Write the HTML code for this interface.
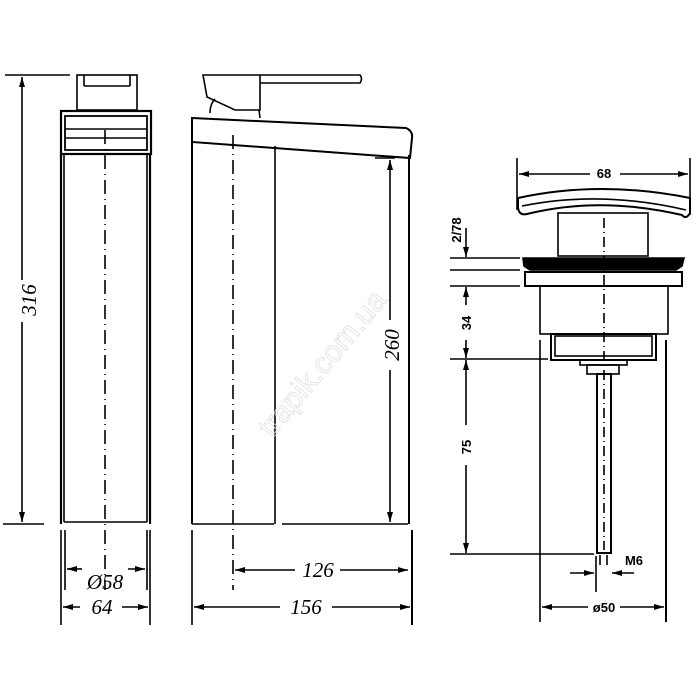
<!DOCTYPE html>
<html><head><meta charset="utf-8"><style>html,body{margin:0;padding:0;background:#fff}svg{display:block}</style></head>
<body>
<svg width="700" height="700" viewBox="0 0 700 700" xmlns="http://www.w3.org/2000/svg">
<defs>
<marker id="a" viewBox="0 0 10 6" refX="10" refY="3" markerWidth="10" markerHeight="6" orient="auto-start-reverse" markerUnits="userSpaceOnUse"><path d="M0,0 L10,3 L0,6 Z" fill="#000"/></marker>
</defs>
<g fill="none" stroke="#000" stroke-width="1.6">
<!-- LEFT VIEW -->
<line x1="5" y1="75" x2="70" y2="75"/>
<line x1="3" y1="524" x2="44" y2="524"/>
<line x1="22" y1="77" x2="22" y2="280" marker-start="url(#a)"/>
<line x1="22" y1="322" x2="22" y2="522" marker-end="url(#a)"/>
<rect x="77" y="75" width="60" height="35"/>
<line x1="84" y1="75" x2="84" y2="86"/><line x1="130" y1="75" x2="130" y2="86"/><line x1="84" y1="86" x2="130" y2="86"/>
<rect x="61" y="111" width="90" height="43" stroke-width="2.2"/>
<rect x="65" y="116" width="82" height="34" stroke-width="1.8"/>
<line x1="65" y1="129" x2="147" y2="129"/><line x1="65" y1="138" x2="147" y2="138"/>
<line x1="61" y1="154" x2="61" y2="524" stroke-width="2.2"/>
<line x1="64" y1="154" x2="64" y2="522"/>
<line x1="147" y1="154" x2="147" y2="522"/>
<line x1="150" y1="154" x2="150" y2="524" stroke-width="2.2"/>
<line x1="64" y1="522" x2="147" y2="522"/>
<line x1="105" y1="130" x2="105" y2="590" stroke-dasharray="14,5,1,5"/>
<line x1="61" y1="530" x2="61" y2="625"/><line x1="150" y1="530" x2="150" y2="625"/>
<line x1="65" y1="530" x2="65" y2="590"/><line x1="147" y1="530" x2="147" y2="590"/>
<line x1="67" y1="569" x2="82" y2="569" marker-start="url(#a)"/><line x1="128" y1="569" x2="145" y2="569" marker-end="url(#a)"/>
<line x1="63" y1="607" x2="80" y2="607" marker-start="url(#a)"/><line x1="122" y1="607" x2="148" y2="607" marker-end="url(#a)"/>
<!-- SIDE VIEW -->
<path d="M203,75 L260,75 L260,110 L235,110 L207,97 Z"/>
<path d="M260,75 L360,75 Q363,79 360,83 L260,83"/>
<path d="M215,99 Q210,104 210,113 M259,110 L260,118"/>
<path d="M192,118 L406,128 Q413,131 412,138 L410,158 L192,142 Z" stroke-width="2"/>
<line x1="192" y1="142" x2="192" y2="524" stroke-width="2"/>
<line x1="275" y1="146" x2="275" y2="524"/>
<line x1="192" y1="524" x2="274" y2="524"/>
<line x1="282" y1="524" x2="408" y2="524"/>
<line x1="409" y1="155" x2="409" y2="524" stroke-width="2"/>
<line x1="412" y1="530" x2="412" y2="625" stroke-width="2"/>
<line x1="192" y1="530" x2="192" y2="625"/>
<line x1="233" y1="135" x2="233" y2="590" stroke-dasharray="14,5,1,5"/>
<line x1="375" y1="158" x2="395" y2="158"/>
<line x1="390" y1="160" x2="390" y2="320" marker-start="url(#a)"/>
<line x1="390" y1="370" x2="390" y2="522" marker-end="url(#a)"/>
<line x1="235" y1="570" x2="295" y2="570" marker-start="url(#a)"/><line x1="340" y1="570" x2="408" y2="570" marker-end="url(#a)"/>
<line x1="194" y1="607" x2="280" y2="607" marker-start="url(#a)"/><line x1="332" y1="607" x2="410" y2="607" marker-end="url(#a)"/>
<!-- DRAIN -->
<line x1="517" y1="158" x2="517" y2="210"/><line x1="690" y1="158" x2="690" y2="215"/>
<line x1="519" y1="174" x2="590" y2="174" marker-start="url(#a)"/><line x1="620" y1="174" x2="688" y2="174" marker-end="url(#a)"/>
<path d="M518,206 L518,198 Q600,180 690,198 L690,213 Q686,220 682,215 Q600,196 527,214 Q518,216 518,206 Z" stroke-width="2"/>
<path d="M522,206 Q600,190 686,210"/>
<rect x="558" y="213" width="90" height="43"/>
<path d="M523,258 L684,258 L682,266 L676,270 L530,270 L524,266 Z" fill="#000"/>
<rect x="525" y="272" width="157" height="14" stroke-width="2"/>
<rect x="540" y="286" width="128" height="48"/>
<rect x="551" y="334" width="105" height="26" stroke-width="2"/>
<rect x="555" y="336" width="97" height="20"/>
<rect x="580" y="360" width="47" height="5"/>
<rect x="587" y="365" width="32" height="9"/>
<rect x="597" y="374" width="14" height="179" stroke-width="2"/>
<line x1="604" y1="218" x2="604" y2="550" stroke-dasharray="10,4,1,4"/>
<line x1="600" y1="555" x2="600" y2="565"/><line x1="607" y1="555" x2="607" y2="565"/>
<line x1="596" y1="556" x2="596" y2="592"/>
<line x1="570" y1="573" x2="594" y2="573" marker-end="url(#a)"/>
<line x1="634" y1="573" x2="612" y2="573" marker-end="url(#a)"/>
<line x1="540" y1="340" x2="540" y2="622"/><line x1="666" y1="340" x2="666" y2="622" stroke-width="2"/>
<line x1="542" y1="607" x2="588" y2="607" marker-start="url(#a)"/><line x1="620" y1="607" x2="664" y2="607" marker-end="url(#a)"/>
<line x1="450" y1="258" x2="520" y2="258"/>
<line x1="450" y1="270" x2="520" y2="270"/>
<line x1="450" y1="286" x2="520" y2="286"/>
<line x1="450" y1="359" x2="548" y2="359"/>
<line x1="450" y1="554" x2="594" y2="554"/>
<line x1="466" y1="228" x2="466" y2="257" marker-end="url(#a)"/>
<line x1="466" y1="287" x2="466" y2="305" marker-start="url(#a)"/>
<line x1="466" y1="340" x2="466" y2="358" marker-end="url(#a)"/>
<line x1="466" y1="360" x2="466" y2="425" marker-start="url(#a)"/>
<line x1="466" y1="465" x2="466" y2="553" marker-end="url(#a)"/>
</g>
<g font-family="Liberation Serif, serif" font-style="italic" font-size="21" fill="#000" text-anchor="middle">
<text x="105" y="589">Ø58</text>
<text x="102" y="614">64</text>
<text x="318" y="577">126</text>
<text x="306" y="614">156</text>
<text transform="translate(36,300) rotate(-90)">316</text>
<text transform="translate(399,345) rotate(-90)">260</text>
</g>
<g font-family="Liberation Sans, sans-serif" font-weight="bold" font-size="13" fill="#000" text-anchor="middle">
<text x="604" y="178">68</text>
<text x="604" y="612">ø50</text>
<text x="634" y="565">M6</text>
<text transform="translate(461,230) rotate(-90)">2/78</text>
<text transform="translate(471,323) rotate(-90)">34</text>
<text transform="translate(471,447) rotate(-90)">75</text>
</g>
<text transform="translate(330,370) rotate(-50)" font-family="Liberation Sans, sans-serif" font-size="30" fill="none" stroke="#e0e0e0" stroke-width="0.8" text-anchor="middle">trapik.com.ua</text>
</svg>
</body></html>
